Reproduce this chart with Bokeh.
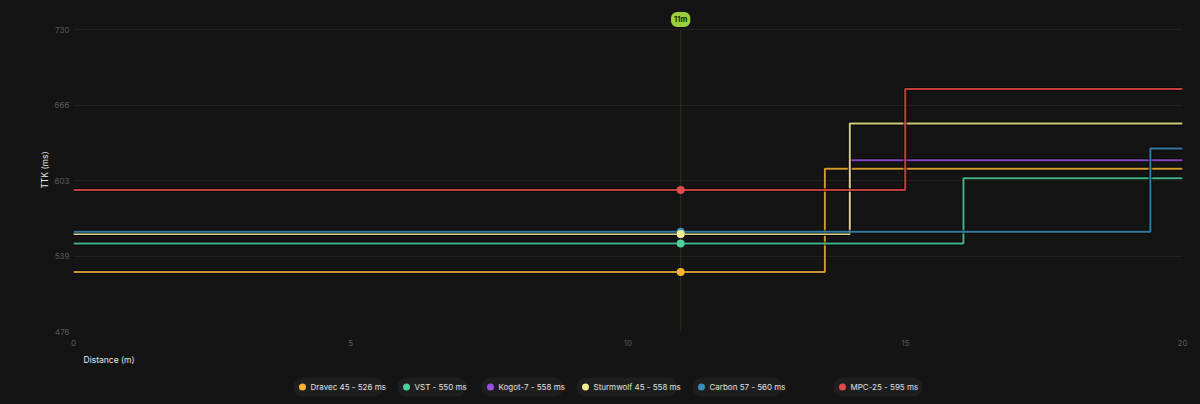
from bokeh.plotting import figure
from bokeh.models import Range1d, FixedTicker, Label, ColumnDataSource, Title
from bokeh.layouts import column
from bokeh.embed import file_html
from bokeh.resources import INLINE
from bokeh.core.properties import value

# ---------------- data ----------------
names = ["Dravec 45", "VST", "Kogot-7", "Sturmwolf 45", "Carbon 57", "MPC-25"]
base_ttk = [526, 550, 558, 558, 560, 595]
step_dist = [13.55, 16.05, 14.0, 14.0, 19.42, 15.0]
step_ttk = [613, 605, 620, 651, 630, 680]
colors = ["#f5b335", "#4fcf9c", "#9b4fe0", "#f2ef8c", "#3b8dbd", "#e04a48"]
max_dist = 20
marker_dist = 10.95
y_ticks = [476, 539.5, 603, 666.5, 730]
y_tick_labels = ["476", "539", "603", "666", "730"]
x_ticks = [0, 5, 10, 15, 20]
dot_order = [0, 1, 2, 4, 3, 5]  # drawing order of the marker dots

BG = "#141414"
FONT = "Inter"

# frame extends above the top tick to leave room for the marker badge
y_top = y_ticks[-1] + 17.7

p = figure(width=1200, height=370, output_backend="svg", toolbar_location=None,
           x_range=Range1d(0, max_dist), y_range=Range1d(y_ticks[0], y_top),
           min_border_left=73, min_border_right=18, min_border_top=8, min_border_bottom=39)
p.background_fill_color = BG
p.border_fill_color = BG
p.outline_line_color = None
p.styles = {"background-color": BG}
p.xgrid.grid_line_color = None
p.ygrid.grid_line_color = "#222222"
p.ygrid.grid_line_width = 1

p.yaxis.ticker = FixedTicker(ticks=y_ticks)
p.yaxis.major_label_overrides = {t: l for t, l in zip(y_ticks, y_tick_labels)}
p.xaxis.ticker = FixedTicker(ticks=x_ticks)
for ax in (p.xaxis, p.yaxis):
    ax.axis_line_color = None
    ax.major_tick_line_color = None
    ax.minor_tick_line_color = None
    ax.major_tick_out = 0
    ax.major_tick_in = 0
    ax.major_label_text_color = "#5a5a5a"
    ax.major_label_text_font = FONT
    ax.major_label_text_font_size = "8px"
    ax.axis_label_text_color = "#e6e6e6"
    ax.axis_label_text_font = FONT
    ax.axis_label_text_font_size = "8.5px"
    ax.axis_label_text_font_style = "normal"
p.yaxis.axis_label = "TTK (ms)"
p.yaxis.major_label_standoff = 4
p.yaxis.axis_label_standoff = 2
p.xaxis.major_label_standoff = 8

p.add_layout(Title(text="Distance (m)", align="left", offset=10, text_font=FONT,
                   text_font_size="8.5px", text_font_style="normal", text_color="#e6e6e6",
                   standoff=8), "below")

# marker line at the hovered distance
p.segment(x0=[marker_dist], y0=[y_ticks[0]], x1=[marker_dist], y1=[y_ticks[-1]],
          line_color="#2a3020", line_width=1)

for n, b, sd, st, c in zip(names, base_ttk, step_dist, step_ttk, colors):
    src = ColumnDataSource(dict(x=[0, sd, max_dist], y=[b, st, st]))
    p.step("x", "y", source=src, mode="after", line_color="#000000", line_width=4, line_alpha=0.55)
    p.step("x", "y", source=src, mode="after", line_color=c, line_width=2, line_alpha=0.85)

for i in dot_order:
    p.scatter([marker_dist], [base_ttk[i]], size=8, fill_color=colors[i], line_color=None)

p.add_layout(Label(x=marker_dist, y=y_ticks[-1], y_offset=10, text=f"{round(marker_dist)}m",
                   text_align="center", text_baseline="middle", text_font=FONT,
                   text_font_size="7.5px", text_font_style="bold", text_color="#1d2a08",
                   background_fill_color="#9ccf3f", padding=3, border_radius=6))

# ---------------- legend ----------------
# this figure's frame is aligned to the main frame (73..1182 px), so use pixel-like coords
leg = figure(width=1200, height=34, output_backend="svg", toolbar_location=None,
             x_range=Range1d(73, 1182), y_range=Range1d(34, 0),
             min_border=0)
leg.background_fill_color = BG
leg.border_fill_color = BG
leg.outline_line_color = None
leg.styles = {"background-color": BG}
leg.axis.visible = False
leg.grid.visible = False

labels = [f"{n} - {b} ms" for n, b in zip(names, base_ttk)]
pill_left = [293, 397, 481, 576, 692, 833]
pill_right = [383, 466, 563, 677, 782, 922]
leg.quad(left=pill_left, right=pill_right, top=[7] * 6, bottom=[26] * 6,
         fill_color="#1e1e1e", line_color=None, border_radius=10)
leg.scatter([l + 9 for l in pill_left], [16.5] * 6, size=7, fill_color=colors, line_color=None)
leg.text([l + 17 for l in pill_left], [16.5] * 6, text=labels, text_font=value(FONT),
         text_font_size="8px", text_color="#e0e0e0", text_baseline="middle", text_align="left")

layout = column(p, leg, spacing=0)
layout.styles = {"background-color": BG}
html = file_html(layout, INLINE)
html = html.replace("<body>", f'<body style="margin:0;background:{BG}">', 1)
open("out.html", "w").write(html)
